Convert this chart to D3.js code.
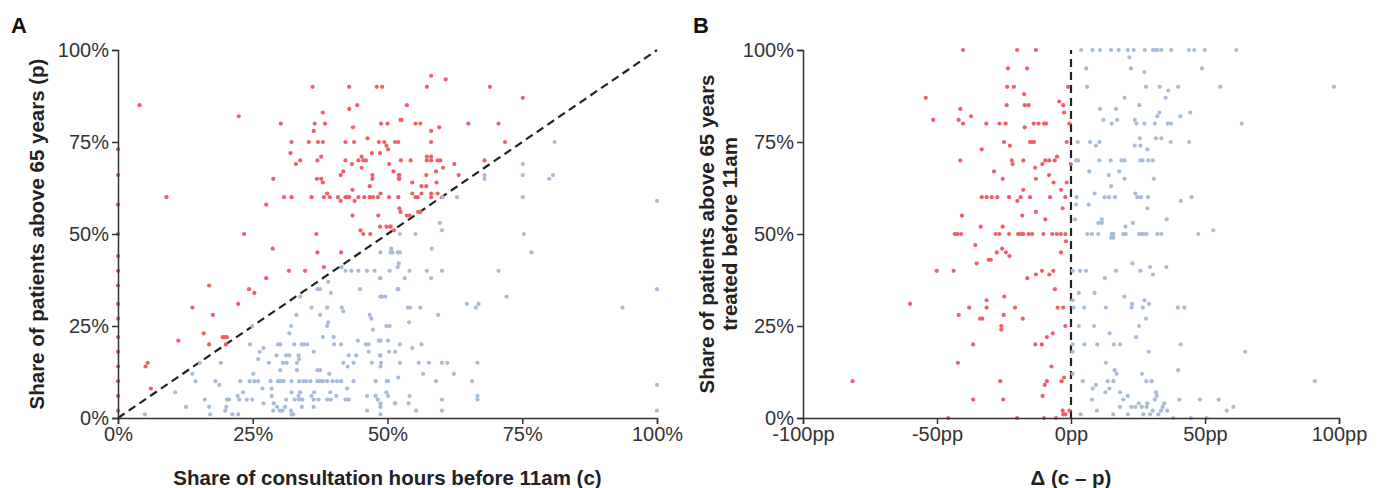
<!DOCTYPE html>
<html>
<head>
<meta charset="utf-8">
<script src="https://cdn.jsdelivr.net/npm/d3@7"></script>
<style>
  body { margin: 0; background: #fff; }
  svg { display: block; font-family: "Liberation Sans", Arial, sans-serif; }
  .axis path, .axis line { stroke: #333; stroke-width: 1.5; }
  .axis text { fill: #333; font-size: 20px; }
  .title { fill: #222; font-size: 20.5px; font-weight: bold; }
  .panel { fill: #111; font-size: 22px; font-weight: bold; }
</style>
</head>
<body>
<div class="chart"></div>
<script>
// tick values
var pctTicks = [0, 25, 50, 75, 100];
var ppTicks = [-100, -50, 0, 50, 100];

// panel A: [c, p] in %, p > c (red)
var aboveA = [
  [4,85],[22.4,82],[9,60],[23.4,50],[27.5,58],[28.8,65],[30.2,80],[30.8,60],[32.2,60],[32,72],[32.2,75],[33,69],[33.8,70],[35.4,75],[36.1,90],[36.3,78],[36.5,80],[37.1,75],[38,75],[38,83],[38.4,80],[37,70],[37.7,71],[36.9,65],[37.7,65],[38,64],[35.9,60],[38.2,60],[38.8,61],[39.3,60],
  [40.8,60],[41.3,59],[42.2,60],[42.6,60],[42.9,60],[43.9,59],[44.6,60],[45.7,60],[46.7,60],[47.3,60],[41.3,66],[41.8,67],[42.2,70],[42.2,75],[43.8,75],[42.9,90],[42.9,84],[44.4,85],[43.6,79],[43.5,62],[43.5,55],[44.6,70],[45.2,71],[45.5,70],[46,70],[43.4,69],[46.3,76],[45.2,68],[46.7,63],[47.2,66],[47.2,65],[47.1,72],[48.6,72],[48.4,75],[48.8,80],[50,80],[48,90],[49,90],[48.7,61],[48.2,60],[50.3,60],[48.3,55],[49.4,75],[49.8,74],[50.1,73],[50.3,69],[51.1,67],[51.4,75],[52,75],[52.1,65],[52.1,66],[52.4,81],[52.2,57],[45,51],[45.5,50],[46.8,50],[48.6,52],[49.8,52],[50.5,52],[36.8,50],
  [58.1,93],[57.3,90],[60.8,92],[69,90],[75.1,87],[53.6,85],[52.6,81],[55.2,80],[56.1,80],[59.6,79],[58.1,78],[65,80],[70.6,80],[71.8,75],[58.1,75],[52.5,70],[54.3,70],[57.3,71],[58.1,71],[57.3,70],[58.1,70],[59.3,70],[59.8,70],[62.4,69],[60.3,68],[59,67],[52.2,66],[52.2,65],[57.2,66],[63.2,66],[68,70],[54.6,64],[56.3,63],[57.2,63],[59.1,64],[52,60],[54.6,61],[55.2,60],[55.6,60],[56.3,61],[58.1,61],[58.1,60],[59.3,61],[52.4,56],[53.6,55],[54.1,55],[55.7,56],[56.1,56],[51.2,51],[50.6,52],
  [28.7,46],[37,45],[41.4,45],[38.2,41],[31.7,40],[34.7,40],[27.5,38],[24.3,35],[25.3,34],[16.9,36],[13.8,30],[17.6,28],[22.3,31],[11.2,21],[15.9,23],[19.4,22],[19.8,22],[20.2,22],[16.9,20],[20,20],[5.1,14],[5.5,15],[6.1,8],
  [0,2],[0,6],[0,10],[0,14],[0,18],[0,22],[0,27],[0,31],[0,36],[0,40],[0,44],[0,50],[0,58],[0,66],[0,73]
];

// panel A: p <= c (blue)
var belowA = [
  [81,75],[75.1,69],[75.1,66],[68,66],[68,65],[80.7,66],[80,65],[75.1,60],[60.2,60],[62.9,60],[100,59],[59.7,53],[60.1,51],[52.3,50],[55.2,50],[75.3,50],
  [48.7,45],[50.7,46],[50.9,45],[51.9,45],[52.3,45],[58.2,46],[76.7,45],[52.1,42],[51.9,41],[50.4,40],[54.1,40],[57.3,40],[60.1,40],[70.6,40],[48.7,38],[53.2,38],[58.1,38],[51.9,35],[48.7,33],[49.6,33],[72.1,33],[100,35],[53.8,30],[54.2,30],[56.1,30],[64.7,31],[66.4,30],[66.9,31],[93.6,30],[59.4,28],[54,26],[49.8,25],[50.4,25],[48.7,21],[50.1,21],[52.3,20],[56.3,20],[54.6,19],[48.7,17],[52.3,15],[55.8,15],[57.7,15],[60.1,15],[61.1,15],[66.7,15],[52,11],[56.6,12],[62.3,12],[50.1,10],[59,10],[65.7,10],[100,9],[50.1,6],[54.1,6],[66.7,6],[66.7,5],[48.7,4],[51.4,4],[53.9,4],[60.1,5],[55.3,2],[60.1,2],[48.7,1],[100,2],
  [50.6,45],[41.5,41],[42.2,40],[43.3,40],[44.6,40],[46.2,40],[47.6,40],[48.6,38],[44.9,35],[39,37],[37,35],[37.5,35],[39.5,34],[33.8,33],[49,33],[52,35],[35.9,30],[38.8,30],[41.5,30],[41.8,29],[33.1,28],[37.5,28],[46.7,28],[47,27],[38.8,25],[39,26],[32.1,25],[47.3,24],[24.9,25],[31.8,23],
  [24.5,20],[29.7,20],[30.1,20],[32.7,20],[34.1,20],[34.5,20],[35.1,20],[40.1,20],[41.4,20],[46,20],[46.5,20],[38,22],[40,22],[44.5,21],[48.4,21],
  [26.3,18],[27,19],[29.4,17],[31.2,17],[31.8,17],[33.5,17],[36.3,18],[42.8,17],[44.2,17],[46.5,18],[48.6,17],[50.3,18],[51.4,18],
  [26,16],[28,15],[30.6,15],[31.3,15],[33.2,15],[33.6,16],[41.8,15],[43.7,15],[42.6,14],[47.1,15],[48.8,15],[15.2,15],[19.1,15],
  [25.1,12],[30.1,13],[33.2,13],[37,13],[37.5,13],[39.2,12],[48.7,14],[13.8,12],
  [14.4,10],[18.1,10],[18.8,9],[22.7,10],[24.4,10],[25.3,10],[26,10],[28.3,10],[29.7,10],[30.2,10],[30.7,10],[32.2,10],[33.6,10],[34.4,10],[34.9,10],[35.7,10],[37,10],[37.5,10],[38,10],[38.8,10],[39.8,10],[40.6,10],[41.4,10],[43.7,10],[47.8,10],[49.9,10],
  [10.6,7],[22.2,6],[23.2,7],[26.8,8],[28.5,8],[28.5,6],[32.2,7],[33.5,6],[33.8,7],[35.9,6],[36.4,7],[39.4,7],[40.5,6],[42.5,8],[46.2,6],[47.8,6],[49.8,7],
  [16.1,5],[20.2,5],[20.6,5],[22.5,5],[23.9,5],[24.9,5],[27,4],[28.9,4],[31.2,5],[32.8,5],[33.6,5],[34.2,5],[36.3,5],[37.2,5],[38.8,5],[39.5,5],[42.2,5],[42.8,5],[48.2,5],[51.4,4],
  [12.6,3],[16.9,3],[20.1,3],[28.8,2],[29.5,3],[30,2],[30.5,2],[31,3],[32.1,2],[34.1,3],[36.3,3],[46.2,2],[48.7,3],[5,1],[17.1,1],[19.9,2],[21.2,1],[22.3,1],[32.2,1],[32.5,1]
];

// panel B: [c - p in pp, share treated before 11am in %], red
var aboveB = [
  [-40.3,100],[-20.1,100],[-13.1,100],[-23.5,95],[-16.4,95],[-23.8,90],[-21.3,90],[-17.5,88],[-1.1,90],[-54.2,87],[-41.3,84],[-51.4,81],[-41.9,81],[-40.3,80],[-37.3,82],[-31.6,80],[-26.7,80],[-24.4,80],[-24,85],[-17.3,85],[-15.8,85],[-17.3,79],[-13.9,80],[-12.1,80],[-10.1,80],[-9.3,80],[-4.4,86],[-2.9,85],[-2.6,83],[-0.6,80],
  [-25,75],[-22.8,74],[-15.3,75],[-14.6,75],[-13.8,75],[-1.6,75],[-33.3,73],[-41.3,70],[-22.1,70],[-21.8,69],[-17.8,70],[-13.4,68],[-10.7,69],[-9.6,70],[-8.1,70],[-6.1,70],[-5.2,71],[-0.1,69],[-28.7,67],[-25.5,65],[-13.1,65],[-8.2,66],[-6.5,64],[-1.6,64],[-17.8,62],[-3.7,62],
  [-33.3,60],[-31.5,60],[-29.6,60],[-27.5,60],[-23.1,60],[-18.8,60],[-15.3,60],[-7.8,60],[-2.1,60],[-20,59],[-3.1,57],[-40.7,55],[-18.2,55],[-13.1,56],[-9.6,54],[-33.7,52],[-25.5,52],
  [-43.4,50],[-42.4,50],[-41,50],[-28.1,50],[-26.7,50],[-23.1,50],[-19.7,50],[-18.7,50],[-17.8,50],[-15.8,50],[-14.5,50],[-10.3,50],[-7,50],[-5.3,50],[-3.8,50],[-2.1,50],
  [-35.7,47],[-1.9,48],[-27.7,45],[-25.7,46],[-24.3,45],[-23,44],[-3.7,45],[-35.2,42],[-30.7,43],[-29.9,43],[-50.1,40],[-43.8,40],[-16.3,38],[-13.1,39],[-10.8,40],[-8.1,39],[-6.6,40],[-6,35],[-60.1,31],[-31.5,32],[-24.9,33],[-38,30],[-31.5,30],[-20.9,30],[-41.9,28],[-33.9,27],[-33.1,27],[-25.1,28],[-18,27],[-5,30],[-2.9,30],[-26,25],[-26,24],[-2.1,25],
  [-36.5,20],[-13.3,20],[-10.9,20],[-9,22],[-6.8,23],[-42.2,15],[-7.3,14],[-81.5,10],[-26.4,10],[-9.8,9],[-9,10],[-3.5,10],[-2.6,11],[-36.5,5],[-25.3,5],[-10.6,6],[-3.1,2],[-2.9,1],[-2.1,1],[-0.6,2],[-45.8,0],[-20.1,0],[-10.1,0],[-5.6,0]
];

// panel B, blue
var belowB = [
  [3.8,100],[8,100],[10.8,100],[14.9,100],[17.8,100],[21.2,100],[23.4,100],[27.6,100],[30.6,100],[31.6,100],[32.2,100],[33.7,100],[37.4,100],[44,100],[46,100],[49.9,100],[61.7,100],
  [21.8,98],[5.7,95],[22.4,95],[27.4,94],[48.9,95],
  [6,90],[28,90],[33.1,90],[40,90],[55.7,90],[98.1,90],[36.3,89],[20,87],[35.3,87],[25.5,85],[10.8,84],[16.8,84],[33,83],[32.2,82],[44.5,83],[40.8,82],[12.1,81],[17.2,81],[23.8,81],
  [15.2,80],[24.4,80],[27.4,80],[31.3,80],[36.1,80],[37.3,80],[63.7,80],
  [2.5,75],[7.1,75],[10.6,75],[25.7,76],[31.7,76],[33.7,76],[37.2,75],[44.1,75],[9.3,74],[23.8,74],[25.9,74],[28.5,73],
  [1.9,70],[2.7,70],[10.6,70],[14.8,70],[18.9,70],[20,70],[25.9,70],[26.7,70],[28.8,70],[30.5,70],
  [6.8,67],[18,67],[14.1,66],[20,65],[30.9,65],[15,63],[8.8,61],[24,61],
  [2.1,60],[12.5,60],[14.2,60],[16.4,60],[24.7,60],[26.1,60],[28.7,60],[45,60],[41,59],
  [1.9,58],[6.6,58],[28.5,57],[1.5,54],[11.5,54],[10.2,53],[11.5,53],[35.7,54],[23.1,53],[20.3,52],[53.1,51],
  [6.1,50],[7.8,50],[10.2,50],[15.2,50],[15.8,50],[19.5,50],[20.4,50],[25.4,50],[26.2,50],[27.2,50],[28.2,50],[32.2,50],[33.7,50],[47.5,50],[15,49],[15.8,49],
  [22.9,42],[29.5,41],[30.6,39],[35.6,41],[0.6,40],[3.4,40],[5.6,40],[16.8,40],[25.9,40],[12.6,38],
  [2.9,34],[8.8,34],[19.9,33],[27.4,32],[29.1,31],[22.8,31],[0.6,32],
  [1,30],[4.9,30],[13,30],[22.6,30],[26.8,30],[39.9,30],[42.3,30],
  [28,27],[2.9,25],[8.6,25],[25.4,25],[14.4,23],[24.3,22],
  [0.6,20],[5,20],[9.8,20],[16,20],[18.3,20],[40.9,20],[0.6,18],[29,18],[65,18],[13,15],
  [16.3,13],[17,12],[26.5,12],[40,13],[0.6,12],
  [4.4,10],[9.3,9],[13.7,10],[15.8,10],[28.1,10],[30.1,10],[91,10],
  [8.1,8],[12.8,7],[14.3,8],[18.3,7],[21.2,6],[31.7,7],[32,6],
  [7.8,5],[19.5,5],[25.3,4],[28.5,4],[31.3,5],[34.8,4],[40.4,5],[48.1,5],[55.1,5],
  [18.3,3],[22.5,3],[24,3],[26.4,3],[28.2,3],[34.2,3],[60.6,3],[58.1,2],
  [9.7,2],[15.8,1],[21.2,1],[27,1],[29.5,1],[32.6,1],[30.5,2],[33.6,2],[35.9,2],[3.6,1],
  [38.2,0],[44.7,0],[50.6,0]
];

var RED = '#ef5f66';
var BLUE = '#a6bbd8';

var svg = d3.select('.chart')
  .append('svg')
    .attr('width', 1383)
    .attr('height', 488);

var plotTop = 50, plotBottom = 418;

function panel(opts) {
  var x = d3.scaleLinear().domain(opts.xDomain).range(opts.xRange);
  var y = d3.scaleLinear().domain([0, 100]).range([plotBottom, plotTop]);
  var g = svg.append('g');

  // reference line first, points on top
  g.append('line')
    .attr('x1', x(opts.line[0][0])).attr('y1', y(opts.line[0][1]))
    .attr('x2', x(opts.line[1][0])).attr('y2', y(opts.line[1][1]))
    .attr('stroke', '#222')
    .attr('stroke-width', 2.2)
    .attr('stroke-dasharray', '8,5');

  [[opts.blue, BLUE], [opts.red, RED]].forEach(function (s) {
    g.append('g').selectAll('circle')
      .data(s[0])
      .enter().append('circle')
        .attr('cx', d => x(d[0]))
        .attr('cy', d => y(d[1]))
        .attr('r', 2.1)
        .attr('fill', s[1]);
  });

  g.append('g')
    .attr('class', 'axis')
    .attr('transform', `translate(0, ${plotBottom})`)
    .call(d3.axisBottom(x).tickValues(opts.xTicks).tickSize(6).tickPadding(3).tickFormat(opts.xFormat));

  g.append('g')
    .attr('class', 'axis')
    .attr('transform', `translate(${opts.xRange[0]}, 0)`)
    .call(d3.axisLeft(y).tickValues(pctTicks).tickSize(6).tickPadding(3).tickFormat(d => d + '%'));

  g.append('text')
    .attr('class', 'panel')
    .attr('x', opts.letterX).attr('y', 33)
    .text(opts.letter);

  g.append('text')
    .attr('class', 'title')
    .attr('text-anchor', 'middle')
    .attr('x', (opts.xRange[0] + opts.xRange[1]) / 2)
    .attr('y', 485)
    .text(opts.xTitle);

  var yt = g.append('text')
    .attr('class', 'title')
    .attr('text-anchor', 'middle')
    .attr('transform', `translate(${opts.yTitleX}, ${(plotTop + plotBottom) / 2}) rotate(-90)`);
  opts.yTitle.forEach(function (line, i) {
    yt.append('tspan')
      .attr('x', 0)
      .attr('dy', i === 0 ? 0 : '1.1em')
      .text(line);
  });
}

panel({
  letter: 'A', letterX: 11,
  xDomain: [0, 100], xRange: [118, 657], xTicks: pctTicks,
  xFormat: d => d + '%',
  red: aboveA, blue: belowA,
  line: [[0, 0], [100, 100]],
  xTitle: 'Share of consultation hours before 11am (c)',
  yTitle: ['Share of patients above 65 years (p)'], yTitleX: 44
});

panel({
  letter: 'B', letterX: 693,
  xDomain: [-100, 100], xRange: [803, 1339], xTicks: ppTicks,
  xFormat: d => d + 'pp',
  red: aboveB, blue: belowB,
  line: [[0, 0], [0, 100]],
  xTitle: 'Δ (c – p)',
  yTitle: ['Share of patients above 65 years', 'treated before 11am'], yTitleX: 714
});
</script>
</body>
</html>
